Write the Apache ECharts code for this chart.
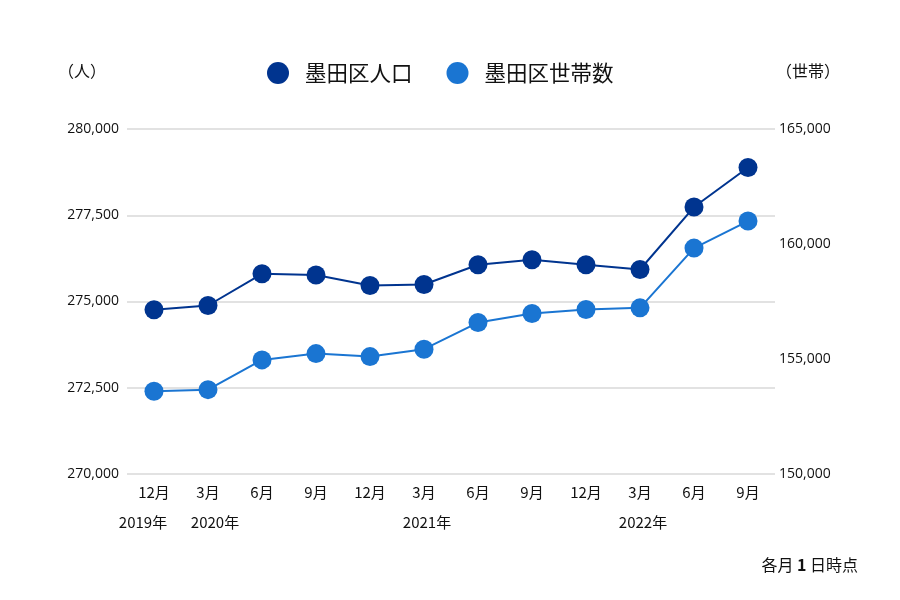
<!DOCTYPE html>
<html>
<head>
<meta charset="utf-8">
<script src="https://cdn.jsdelivr.net/npm/echarts@6/dist/echarts.min.js"></script>
<style>html,body{margin:0;padding:0;background:#fff}#c{width:900px;height:600px}</style>
</head>
<body>
<div id="c"></div>
<script>
const months = ['12月','3月','6月','9月','12月','3月','6月','9月','12月','3月','6月','9月'];
const years = ['2019年','2020年','','','','2021年','','','','2022年','',''];
const population = [274760, 274884, 275803, 275766, 275464, 275493, 276064, 276209, 276064, 275928, 277738, 278886];
const households = [153600, 153668, 154961, 155235, 155104, 155426, 156584, 156976, 157150, 157224, 159822, 160997];
const popName = '墨田区人口';
const hhName = '墨田区世帯数';
const leftTicks = {min: 270000, max: 280000, interval: 2500};
const rightTicks = {min: 150000, max: 165000, interval: 5000};

const FONT = '"Noto Sans CJK JP", "Noto Sans", sans-serif';
const NUMFONT = '"Open Sans", "Noto Sans", sans-serif';
const darkC = '#00348f';
const lightC = '#1a75d2';
const fmt = v => v.toLocaleString('en-US');

const chart = echarts.init(document.getElementById('c'), null, {renderer: 'canvas'});
chart.setOption({
  backgroundColor: '#fff',
  animation: false,
  textStyle: {fontFamily: FONT},
  grid: {left: 127, right: 125, top: 129, bottom: 126},
  legend: {
    top: 62, left: 267, padding: 0,
    itemWidth: 22, itemHeight: 22, itemGap: 34,
    icon: 'circle',
    textStyle: {fontSize: 21.5, color: '#111', fontFamily: FONT, padding: [0, 0, 0, 11]},
    data: [popName, hhName]
  },
  xAxis: [{
    type: 'category', data: months, boundaryGap: true,
    axisLine: {show: false}, axisTick: {show: false},
    axisLabel: {fontSize: 15, color: '#111', margin: 11, fontFamily: FONT}
  }, {
    type: 'category', position: 'bottom', offset: 30,
    data: years.map((y, i) => i === 0 ? {value: y, textStyle: {padding: [0, 22, 0, 0]}} : (i === 1 ? {value: y, textStyle: {padding: [0, 0, 0, 14]}} : {value: y, textStyle: {padding: [0, 0, 0, 6]}})),
    boundaryGap: true,
    axisLine: {show: false}, axisTick: {show: false}, splitLine: {show: false},
    axisLabel: {fontSize: 15, color: '#111', margin: 11, interval: 0, fontFamily: FONT}
  }],
  yAxis: [{
    type: 'value', position: 'left', ...leftTicks,
    axisLine: {show: false}, axisTick: {show: false},
    splitLine: {lineStyle: {color: '#d9d9d9', width: 1.5}},
    axisLabel: {fontSize: 14, color: '#111', margin: 8, formatter: fmt, fontFamily: NUMFONT}
  }, {
    type: 'value', position: 'right', ...rightTicks,
    axisLine: {show: false}, axisTick: {show: false}, splitLine: {show: false},
    axisLabel: {fontSize: 14, color: '#111', margin: 4, formatter: fmt, fontFamily: NUMFONT}
  }],
  graphic: [
    {type: 'text', left: 58, top: 63, style: {text: '（人）', font: '16px ' + FONT, fill: '#111'}},
    {type: 'text', left: 776, top: 63, style: {text: '（世帯）', font: '16px ' + FONT, fill: '#111'}},
    {type: 'text', right: 42, top: 557, style: {
      text: '各月 {b|1} 日時点', font: '16px ' + FONT, fill: '#111',
      rich: {b: {fontSize: 16, fontWeight: 'bold', fontFamily: FONT, fill: '#111'}}
    }}
  ],
  series: [{
    name: popName, type: 'line', data: population, yAxisIndex: 0, xAxisIndex: 0,
    symbol: 'circle', symbolSize: 19, color: darkC,
    lineStyle: {color: darkC, width: 2}, itemStyle: {color: darkC}
  }, {
    name: hhName, type: 'line', data: households, yAxisIndex: 1, xAxisIndex: 0,
    symbol: 'circle', symbolSize: 19, color: lightC,
    lineStyle: {color: lightC, width: 2}, itemStyle: {color: lightC}
  }]
});
</script>
</body>
</html>
